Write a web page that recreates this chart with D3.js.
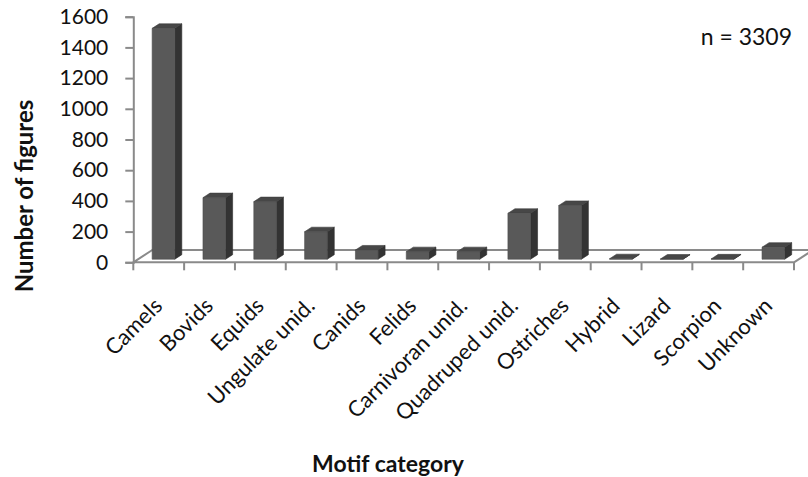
<!DOCTYPE html>
<html>
<head>
<meta charset="utf-8">
<script src="https://cdn.jsdelivr.net/npm/d3@7"></script>
<style>
  html, body { margin: 0; padding: 0; background: #ffffff; }
  svg { display: block; }
  text { font-family: Lato, "Open Sans", sans-serif; fill: #111; }
</style>
</head>
<body>
<svg id="chart" width="808" height="477"></svg>
<script>
// Motif categories and counts of figures
const categories = ["Camels", "Bovids", "Equids", "Ungulate unid.", "Canids", "Felids",
  "Carnivoran unid.", "Quadruped unid.", "Ostriches", "Hybrid", "Lizard", "Scorpion", "Unknown"];
const counts = [1504, 401, 375, 179, 60, 49, 49, 299, 350, 3, 1, 2, 78];
const yTicks = [0, 200, 400, 600, 800, 1000, 1200, 1400, 1600];
const totalLabel = "n = 3309";

const svg = d3.select("#chart");

// plot frame (front plane of the 3D floor)
const plotLeft = 133.3, plotRight = 794, plotBase = 262.3, plotTop = 16.7;
// depth vector of the floor (full depth = 1)
const depthX = 19, depthY = -12.3;
const barFront = 0.25, barBack = 0.62;

const x = d3.scaleBand().domain(categories).range([plotLeft, plotRight])
  .paddingInner(0.555).paddingOuter(0.2775);
const y = d3.scaleLinear().domain([0, 1600]).range([plotBase, plotTop]);

const P = (px, v, z) => [px + z * depthX, y(v) + z * depthY];
const axisCol = "#8a8a8a";

// floor
const floor = [P(plotLeft, 0, 0), P(plotRight, 0, 0), P(plotRight, 0, 1), P(plotLeft, 0, 1)];
svg.append("polygon")
  .attr("points", floor.map(p => p.join(",")).join(" "))
  .attr("fill", "#ffffff").attr("stroke", axisCol).attr("stroke-width", 2)
  .attr("stroke-linejoin", "round");

// y axis
const yAxis = d3.axisLeft(y).tickValues(yTicks).tickFormat(d3.format("d"))
  .tickSize(8).tickPadding(17);
const gy = svg.append("g").attr("transform", `translate(${plotLeft},0)`).call(yAxis);
gy.select(".domain").attr("stroke", axisCol).attr("stroke-width", 2);
gy.selectAll(".tick line").attr("stroke", axisCol).attr("stroke-width", 2);
gy.selectAll(".tick text").style("font-family", "Lato, sans-serif").style("font-size", "21px").attr("fill", "#111");

// x axis (category ticks at band boundaries)
const step = x.step();
const tickXs = d3.range(categories.length + 1).map(i => plotLeft + i * step);
svg.append("g").selectAll("line").data(tickXs).join("line")
  .attr("x1", d => d).attr("x2", d => d)
  .attr("y1", plotBase).attr("y2", plotBase + 8)
  .attr("stroke", axisCol).attr("stroke-width", 2);

// bars as 3D boxes
const bars = svg.append("g");
categories.forEach((c, i) => {
  const v = counts[i];
  const x0 = x(c), x1 = x(c) + x.bandwidth();
  const fbl = P(x0, 0, barFront), fbr = P(x1, 0, barFront);
  const ftl = P(x0, v, barFront), ftr = P(x1, v, barFront);
  const btl = P(x0, v, barBack), btr = P(x1, v, barBack);
  const bbr = P(x1, 0, barBack);
  const g = bars.append("g");
  // side face
  g.append("polygon").attr("points", [fbr, ftr, btr, bbr].map(p => p.join(",")).join(" "))
    .attr("fill", "#333333").attr("stroke", "#2e2e2e").attr("stroke-width", 0.6);
  // top face
  g.append("polygon").attr("points", [ftl, ftr, btr, btl].map(p => p.join(",")).join(" "))
    .attr("fill", "#474747").attr("stroke", "#3c3c3c").attr("stroke-width", 0.6);
  // front face
  g.append("polygon").attr("points", [fbl, fbr, ftr, ftl].map(p => p.join(",")).join(" "))
    .attr("fill", "#595959").attr("stroke", "#4e4e4e").attr("stroke-width", 0.6);
});

// category labels
svg.append("g").selectAll("text").data(categories).join("text")
  .attr("transform", d => `translate(${x(d) + x.bandwidth() / 2 + 5},${plotBase + 45}) rotate(-45)`)
  .attr("text-anchor", "end")
  .style("font-size", "22px")
  .text(d => d);

// axis titles
svg.append("text")
  .attr("transform", "translate(33,196) rotate(-90)")
  .attr("text-anchor", "middle")
  .style("font-size", "24px").style("font-weight", "bold")
  .text("Number of figures");

svg.append("text")
  .attr("x", 388).attr("y", 472)
  .attr("text-anchor", "middle")
  .style("font-size", "23px").style("font-weight", "bold")
  .text("Motif category");

svg.append("text")
  .attr("x", 792).attr("y", 45)
  .attr("text-anchor", "end")
  .style("font-size", "23px")
  .text(totalLabel);
</script>
</body>
</html>
